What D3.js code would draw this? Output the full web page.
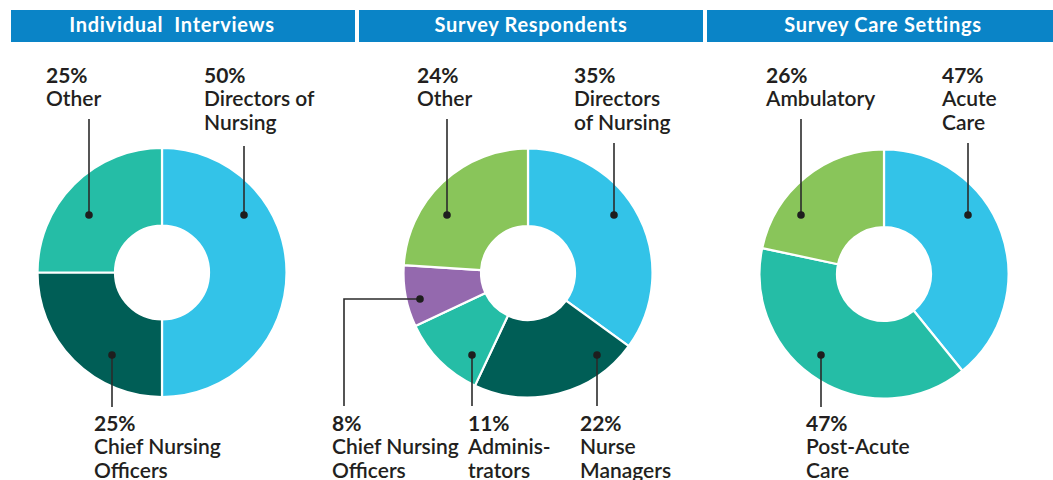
<!DOCTYPE html>
<html><head><meta charset="utf-8">
<script src="https://cdn.jsdelivr.net/npm/d3@7"></script>
<style>body{margin:0;background:#fff}</style>
</head><body><svg id="c" width="1053" height="480"></svg>
<script>
// ---- data ----
const panelTitles = ["Individual  Interviews", "Survey Respondents", "Survey Care Settings"];
const interviewCategories = ["Directors of Nursing", "Chief Nursing Officers", "Other"];
const interviewValues = [50, 25, 25];
const respondentCategories = ["Directors of Nursing", "Nurse Managers", "Administrators", "Chief Nursing Officers", "Other"];
const respondentValues = [35, 22, 11, 8, 24];
const settingCategories = ["Acute Care", "Post-Acute Care", "Ambulatory"];
const settingValues = [47, 47, 26];

// ---- styles / layout ----
const C = {blue: "#33c3e8", dark: "#005e56", teal: "#25bda6", green: "#89c55a", purple: "#9469ae"};
const panels = [
  {title: panelTitles[0], cats: interviewCategories, vals: interviewValues,
   colors: [C.blue, C.dark, C.teal], hx0: 11, hx1: 355, tx: 172, cx: 162, cy: 272.5,
   ann: [
     {lines: ["Directors of", "Nursing"], tx: 204, ty: 83, dot: [244, 215], path: [[244, 146]]},
     {lines: ["Chief Nursing", "Officers"], tx: 94, ty: 431, dot: [112, 355], path: [[112, 407]]},
     {lines: ["Other"], tx: 46, ty: 83, dot: [89, 215], path: [[89, 119]]}
   ]},
  {title: panelTitles[1], cats: respondentCategories, vals: respondentValues,
   colors: [C.blue, C.dark, C.teal, C.purple, C.green], hx0: 359, hx1: 703, tx: 531, cx: 528, cy: 273,
   ann: [
     {lines: ["Directors", "of Nursing"], tx: 574, ty: 83, dot: [614, 215], path: [[614, 143]]},
     {lines: ["Nurse", "Managers"], tx: 580, ty: 431, dot: [597, 355], path: [[597, 406]]},
     {lines: ["Adminis-", "trators"], tx: 468, ty: 431, dot: [472, 355], path: [[472, 406]]},
     {lines: ["Chief Nursing", "Officers"], tx: 332, ty: 431, dot: [420, 299], path: [[344, 299], [344, 406]]},
     {lines: ["Other"], tx: 417, ty: 83, dot: [447, 215], path: [[447, 119]]}
   ]},
  {title: panelTitles[2], cats: settingCategories, vals: settingValues,
   colors: [C.blue, C.teal, C.green], hx0: 707, hx1: 1053, tx: 883, cx: 884, cy: 274,
   ann: [
     {lines: ["Acute", "Care"], tx: 942, ty: 83, dot: [968, 215], path: [[968, 143]]},
     {lines: ["Post-Acute", "Care"], tx: 806, ty: 431, dot: [821, 355], path: [[821, 407]]},
     {lines: ["Ambulatory"], tx: 766, ty: 83, dot: [801, 215], path: [[801, 119]]}
   ]}
];

const svg = d3.select("#c");
const FONT = "Lato, 'Open Sans', sans-serif";
const TEXT = "#231f20";
const LH = 23.3;

const pie = d3.pie().sort(null).value(d => d.v);
const arc = d3.arc().innerRadius(47).outerRadius(124.5);

panels.forEach(p => {
  // header
  svg.append("rect").attr("x", p.hx0).attr("y", 10).attr("width", p.hx1 - p.hx0).attr("height", 32)
    .attr("fill", "#0a84c7");
  svg.append("text").attr("x", p.tx).attr("y", 32).attr("text-anchor", "middle")
    .attr("fill", "#fff").attr("font-family", FONT).attr("font-weight", 700).attr("font-size", 20)
    .attr("letter-spacing", 0.7)
    .attr("xml:space", "preserve").style("white-space", "pre").text(p.title);

  const data = p.cats.map((c, i) => ({c, v: p.vals[i], color: p.colors[i], ann: p.ann[i]}));
  const g = svg.append("g").attr("transform", `translate(${p.cx},${p.cy})`);
  g.selectAll("path").data(pie(data)).join("path")
    .attr("d", arc).attr("fill", d => d.data.color)
    .attr("stroke", "#fff").attr("stroke-width", 2.2).attr("stroke-linejoin", "round");

  data.forEach(d => {
    const a = d.ann;
    const pts = [a.dot, ...a.path];
    svg.append("path").attr("d", d3.line()(pts)).attr("fill", "none")
      .attr("stroke", "#2b2b2b").attr("stroke-width", 1.6);
    svg.append("circle").attr("cx", a.dot[0]).attr("cy", a.dot[1]).attr("r", 3.8).attr("fill", "#1e1e1e");
    const t = svg.append("text").attr("font-family", FONT).attr("fill", TEXT).attr("font-size", 21);
    t.append("tspan").attr("x", a.tx).attr("y", a.ty).attr("font-weight", 700).text(d.v + "%");
    a.lines.forEach((l, k) => {
      t.append("tspan").attr("x", a.tx).attr("y", a.ty + LH * (k + 1)).attr("font-weight", 600).text(l);
    });
  });
});
</script>
</body></html>
